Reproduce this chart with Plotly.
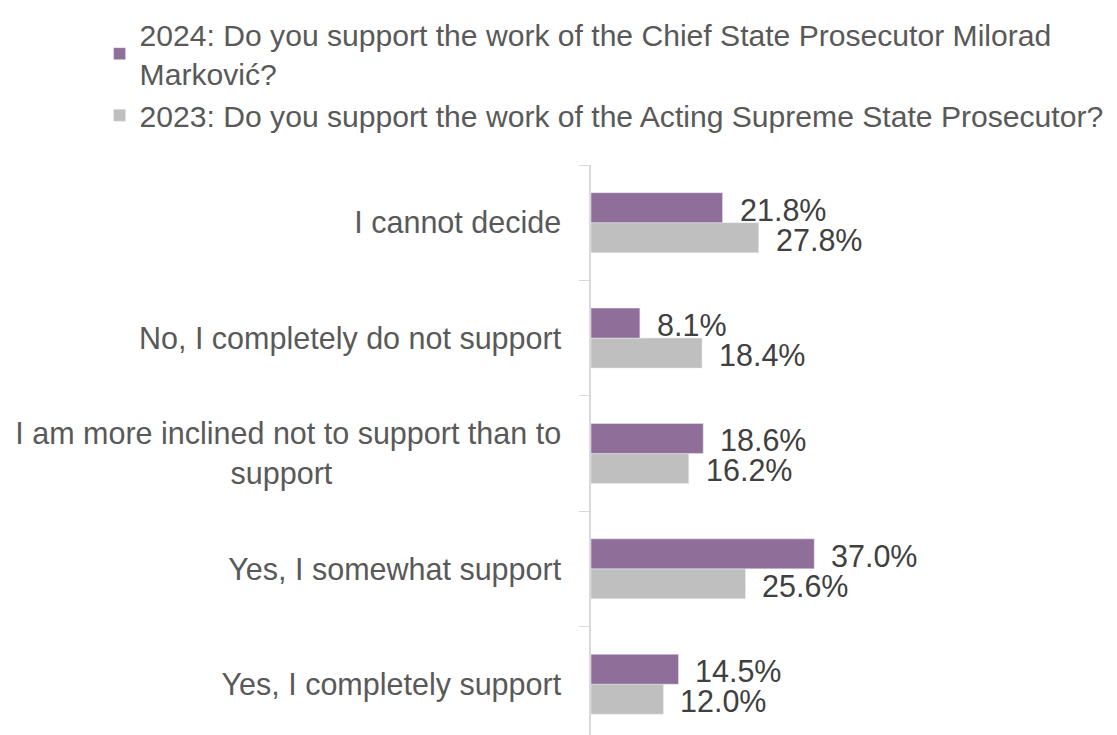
import plotly.graph_objects as go

# categories, bottom to top as plotly draws them
categories = [
    "Yes, I completely support",
    "Yes, I somewhat support",
    "I am more inclined not to support than to<br>support" + "\u00a0" * 27,
    "No, I completely do not support",
    "I cannot decide",
]
values_2024 = [14.5, 37.0, 18.6, 8.1, 21.8]
values_2023 = [12.0, 25.6, 16.2, 18.4, 27.8]
name_2024 = "2024: Do you support the work of the Chief State Prosecutor Milorad<br>Marković?"
name_2023 = "2023: Do you support the work of the Acting Supreme State Prosecutor?"

PURPLE = "#8f6f99"
GRAY = "#bfbfbf"
FONT = "Liberation Sans"
SIZE = 30.5

fig = go.Figure()
# gray trace first so the purple bar sits on top within each group
fig.add_trace(go.Bar(y=categories, x=values_2023, orientation="h", name=name_2023,
                     marker=dict(color=GRAY), legendrank=2))
fig.add_trace(go.Bar(y=categories, x=values_2024, orientation="h", name=name_2024,
                     marker=dict(color=PURPLE), legendrank=1))

# value labels, sitting a bit right of each bar end
for i, cat in enumerate(categories):
    for val, shift in ((values_2024[i], 13), (values_2023[i], -17)):
        fig.add_annotation(x=val, y=cat, text=f"{val:.1f}%", showarrow=False,
                           xanchor="left", xshift=15, yshift=shift,
                           font=dict(family=FONT, size=SIZE, color="#404040"))

# page body adds 8px offset, margins compensate for it
fig.update_layout(
    width=1117, height=735,
    margin=dict(l=583, r=0, t=157, b=8, autoexpand=False),
    paper_bgcolor="white", plot_bgcolor="white",
    barmode="group", bargap=0.48, bargroupgap=0,
    font=dict(family=FONT, size=SIZE, color="#595959"),
    legend=dict(xref="container", yref="container", x=0.082, y=1.008,
                xanchor="left", yanchor="top", orientation="v",
                font=dict(family=FONT, size=30.1, color="#595959")),
    xaxis=dict(range=[0, 88.5], visible=False),
    yaxis=dict(range=[-0.44, 4.5], showline=True, linecolor="#d9d9d9", linewidth=1.5,
               ticks="outside", tickson="boundaries", ticklen=10, tickcolor="#d9d9d9",
               ticklabelstandoff=22, showgrid=False, automargin=False,
               tickfont=dict(family=FONT, size=SIZE, color="#595959")),
)

fig.write_html("out.html")
